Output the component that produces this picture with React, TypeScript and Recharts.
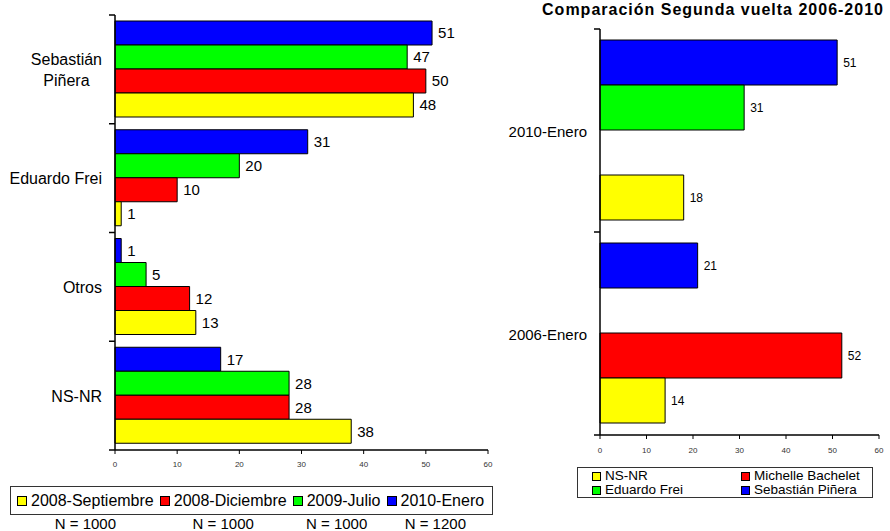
import { BarChart, Bar, XAxis, YAxis, LabelList } from 'recharts';

const FONT = '"Liberation Sans", Arial, Helvetica, sans-serif';

// left chart: poll series by candidate
const candidates = ['Sebastián Piñera', 'Eduardo Frei', 'Otros', 'NS-NR'];
const sep2008 = [48, 1, 13, 38];
const dic2008 = [50, 10, 12, 28];
const jul2009 = [47, 20, 5, 28];
const ene2010 = [51, 31, 1, 17];
const pollNames = ['2008-Septiembre', '2008-Diciembre', '2009-Julio', '2010-Enero'];
const pollSamples = ['N = 1000', 'N = 1000', 'N = 1000', 'N = 1200'];

// right chart: second round comparison
const rounds = ['2010-Enero', '2006-Enero'];
const nsnr = [18, 14];
const bachelet = [null, 52];
const frei = [31, null];
const pinera = [51, 21];
const roundNames = ['NS-NR', 'Eduardo Frei', 'Michelle Bachelet', 'Sebastián Piñera'];

const xTicks = [0, 10, 20, 30, 40, 50, 60];

const YELLOW = '#FFFF00';
const RED = '#FF0000';
const GREEN = '#00FF00';
const BLUE = '#0000FF';

const pollData = candidates.map((name, i) => ({
  name,
  sep2008: sep2008[i],
  dic2008: dic2008[i],
  jul2009: jul2009[i],
  ene2010: ene2010[i],
}));

const roundData = rounds.map((name, i) => ({
  name,
  nsnr: nsnr[i],
  bachelet: bachelet[i],
  frei: frei[i],
  pinera: pinera[i],
}));

// labels that wrap onto two lines
const wrapped: Record<string, string[]> = {
  'Sebastián Piñera': ['Sebastián', 'Piñera'],
};

let ctx: CanvasRenderingContext2D | null = null;
const textWidth = (text: string, font: string) => {
  if (!ctx) ctx = document.createElement('canvas').getContext('2d');
  if (!ctx) return text.length * 8;
  ctx.font = font;
  return ctx.measureText(text).width;
};

const CategoryTick = (props: any) => {
  const { x, y, payload, index, band, count, fontSize, gap } = props;
  const lines = wrapped[payload.value] || [payload.value];
  const lh = fontSize * 1.3;
  const widest = Math.max(...lines.map((l: string) => textWidth(l, `${fontSize}px ${FONT}`)));
  const multi = lines.length > 1;
  const tx = multi ? x - gap - widest / 2 : x - gap;
  const top = y - ((lines.length - 1) * lh) / 2;
  return (
    <g>
      <line x1={x - 6} x2={x} y1={y - band / 2} y2={y - band / 2} stroke="#000" strokeWidth={1.5} />
      {index === count - 1 && (
        <line x1={x - 6} x2={x} y1={y + band / 2} y2={y + band / 2} stroke="#000" strokeWidth={1.5} />
      )}
      <text
        x={tx}
        y={top}
        textAnchor={multi ? 'middle' : 'end'}
        dominantBaseline="central"
        fontSize={fontSize}
        fontFamily={FONT}
        fill="#000"
      >
        {lines.map((l: string, i: number) => (
          <tspan key={i} x={tx} dy={i === 0 ? 0 : lh}>
            {l}
          </tspan>
        ))}
      </text>
    </g>
  );
};

const valueFmt = (v: any) => (v === null || v === undefined ? '' : v);

const Swatch = ({ color, size }: { color: string; size: number }) => (
  <span
    style={{
      display: 'inline-block',
      width: size,
      height: size,
      background: color,
      border: '1px solid #000',
      boxSizing: 'border-box',
      marginRight: 4,
    }}
  />
);

export default function App() {
  const leftColors = [YELLOW, RED, GREEN, BLUE];
  const rightColors = [YELLOW, GREEN, RED, BLUE];
  const leftBand = 435 / candidates.length;
  const rightBand = 406 / rounds.length;

  return (
    <div style={{ position: 'absolute', left: 0, top: 0, width: 890, height: 531, background: '#fff', fontFamily: FONT }}>
      {/* left chart */}
      <div style={{ position: 'absolute', left: 0, top: 0 }}>
        <BarChart
          width={500}
          height={480}
          data={pollData}
          layout="vertical"
          margin={{ top: 15, right: 12, bottom: 0, left: 0 }}
          barCategoryGap={6}
          barGap={0}
        >
          <XAxis
            type="number"
            domain={[0, 60]}
            ticks={xTicks}
            height={30}
            tickSize={4}
            tickMargin={7}
            axisLine={{ stroke: '#000', strokeWidth: 1.5 }}
            tickLine={{ stroke: '#000' }}
            tick={{ fontSize: 8, fill: '#333', fontFamily: FONT }}
          />
          <XAxis
            xAxisId="top"
            orientation="top"
            type="number"
            domain={[0, 60]}
            height={0}
            tick={false}
            tickLine={false}
            axisLine={{ stroke: '#555', strokeWidth: 1.2 }}
          />
          <YAxis
            type="category"
            dataKey="name"
            width={115}
            tickSize={0}
            tickMargin={0}
            tickLine={false}
            axisLine={{ stroke: '#000', strokeWidth: 1.5 }}
            tick={<CategoryTick band={leftBand} count={candidates.length} fontSize={16} gap={13} />}
            interval={0}
          />
          <YAxis
            yAxisId="right"
            orientation="right"
            type="category"
            dataKey="name"
            width={0}
            tick={false}
            tickLine={false}
            axisLine={{ stroke: '#555', strokeWidth: 1.2 }}
          />
          <Bar dataKey="ene2010" fill={BLUE} stroke="#000" strokeWidth={1} isAnimationActive={false}>
            <LabelList dataKey="ene2010" position="right" offset={6} fill="#000" fontSize={15} fontFamily={FONT} />
          </Bar>
          <Bar dataKey="jul2009" fill={GREEN} stroke="#000" strokeWidth={1} isAnimationActive={false}>
            <LabelList dataKey="jul2009" position="right" offset={6} fill="#000" fontSize={15} fontFamily={FONT} />
          </Bar>
          <Bar dataKey="dic2008" fill={RED} stroke="#000" strokeWidth={1} isAnimationActive={false}>
            <LabelList dataKey="dic2008" position="right" offset={6} fill="#000" fontSize={15} fontFamily={FONT} />
          </Bar>
          <Bar dataKey="sep2008" fill={YELLOW} stroke="#000" strokeWidth={1} isAnimationActive={false}>
            <LabelList dataKey="sep2008" position="right" offset={6} fill="#000" fontSize={15} fontFamily={FONT} />
          </Bar>
        </BarChart>
      </div>

      {/* left legend */}
      <div
        style={{
          position: 'absolute',
          left: 10,
          top: 486,
          width: 483,
          height: 29,
          border: '1.5px solid #333',
          boxSizing: 'border-box',
        }}
      />
      <div
        style={{
          position: 'absolute',
          left: 17,
          top: 486,
          display: 'grid',
          gridTemplateColumns: 'repeat(4, auto)',
          columnGap: 6,
          fontSize: 16,
          color: '#000',
        }}
      >
        {pollNames.map((n, i) => (
          <div key={n} style={{ height: 29, display: 'flex', alignItems: 'center', whiteSpace: 'nowrap' }}>
            <Swatch color={leftColors[i]} size={10} />
            {n}
          </div>
        ))}
        {pollSamples.map((s, i) => (
          <div key={i} style={{ textAlign: 'center', fontSize: 15, lineHeight: '16px', marginTop: 1, whiteSpace: 'nowrap' }}>
            {s}
          </div>
        ))}
      </div>

      {/* right chart */}
      <div
        style={{
          position: 'absolute',
          left: 533,
          top: 1,
          width: 360,
          textAlign: 'center',
          fontWeight: 'bold',
          fontSize: 16,
          letterSpacing: 1,
          whiteSpace: 'nowrap',
        }}
      >
        Comparación Segunda vuelta 2006-2010
      </div>
      <div style={{ position: 'absolute', left: 490, top: 0 }}>
        <BarChart
          width={400}
          height={460}
          data={roundData}
          layout="vertical"
          margin={{ top: 29, right: 11, bottom: 0, left: 0 }}
          barCategoryGap={11}
          barGap={0}
        >
          <XAxis
            type="number"
            domain={[0, 60]}
            ticks={xTicks}
            height={25}
            tickSize={4}
            tickMargin={8}
            axisLine={{ stroke: '#000', strokeWidth: 1.5 }}
            tickLine={{ stroke: '#000' }}
            tick={{ fontSize: 8, fill: '#333', fontFamily: FONT }}
          />
          <XAxis
            xAxisId="top"
            orientation="top"
            type="number"
            domain={[0, 60]}
            height={0}
            tick={false}
            tickLine={false}
            axisLine={{ stroke: '#555', strokeWidth: 1.2 }}
          />
          <YAxis
            type="category"
            dataKey="name"
            width={110}
            tickSize={0}
            tickMargin={0}
            tickLine={false}
            axisLine={{ stroke: '#000', strokeWidth: 1.5 }}
            tick={<CategoryTick band={rightBand} count={rounds.length} fontSize={15} gap={13} />}
            interval={0}
          />
          <YAxis
            yAxisId="right"
            orientation="right"
            type="category"
            dataKey="name"
            width={0}
            tick={false}
            tickLine={false}
            axisLine={{ stroke: '#555', strokeWidth: 1.2 }}
          />
          <Bar dataKey="pinera" fill={BLUE} stroke="#000" strokeWidth={1} isAnimationActive={false}>
            <LabelList dataKey="pinera" position="right" offset={6} fill="#000" fontSize={12} fontFamily={FONT} formatter={valueFmt} />
          </Bar>
          <Bar dataKey="frei" fill={GREEN} stroke="#000" strokeWidth={1} isAnimationActive={false}>
            <LabelList dataKey="frei" position="right" offset={6} fill="#000" fontSize={12} fontFamily={FONT} formatter={valueFmt} />
          </Bar>
          <Bar dataKey="bachelet" fill={RED} stroke="#000" strokeWidth={1} isAnimationActive={false}>
            <LabelList dataKey="bachelet" position="right" offset={6} fill="#000" fontSize={12} fontFamily={FONT} formatter={valueFmt} />
          </Bar>
          <Bar dataKey="nsnr" fill={YELLOW} stroke="#000" strokeWidth={1} isAnimationActive={false}>
            <LabelList dataKey="nsnr" position="right" offset={6} fill="#000" fontSize={12} fontFamily={FONT} formatter={valueFmt} />
          </Bar>
        </BarChart>
      </div>

      {/* right legend */}
      <div
        style={{
          position: 'absolute',
          left: 577,
          top: 467,
          width: 296,
          height: 31,
          border: '1.5px solid #333',
          boxSizing: 'border-box',
          padding: '1px 0 0 14px',
          display: 'grid',
          gridTemplateColumns: '149px auto',
          gridTemplateRows: '14px 14px',
          gridAutoFlow: 'column',
          fontSize: 13.5,
          lineHeight: '14px',
          color: '#000',
        }}
      >
        {roundNames.map((n, i) => (
          <div key={n} style={{ display: 'flex', alignItems: 'center', whiteSpace: 'nowrap' }}>
            <Swatch color={rightColors[i]} size={9} />
            {n}
          </div>
        ))}
      </div>
    </div>
  );
}
